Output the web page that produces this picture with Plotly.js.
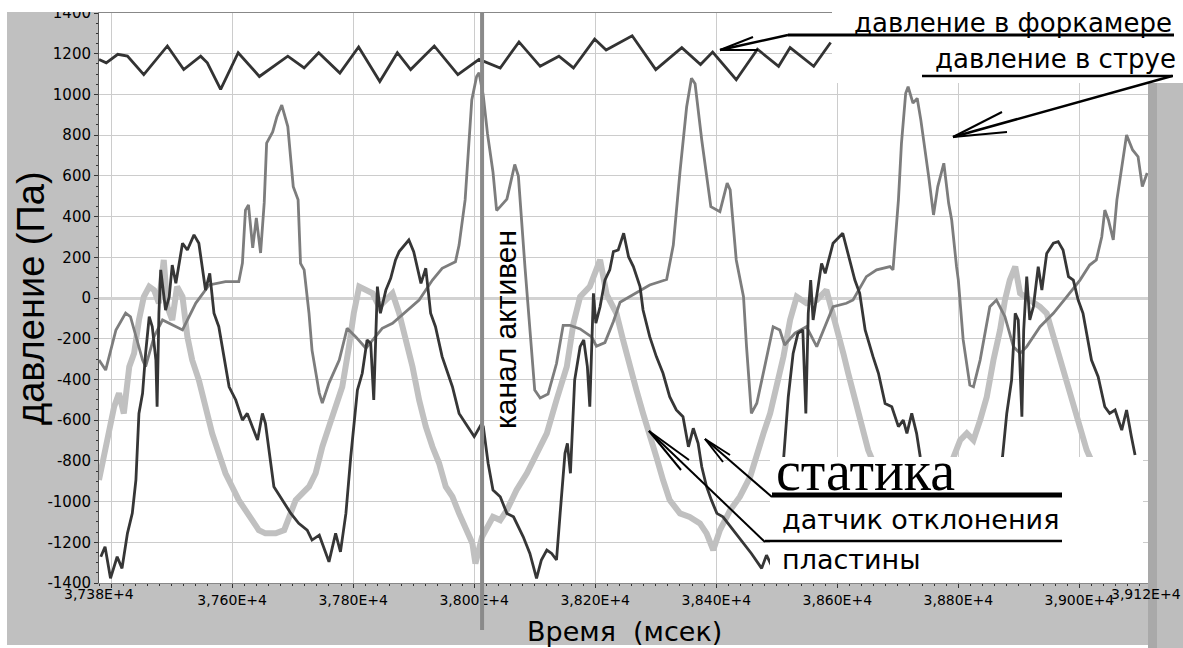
<!DOCTYPE html>
<html>
<head>
<meta charset="utf-8">
<script src="https://cdn.plot.ly/plotly-3.0.1.min.js"></script>
<style>
  html, body { margin: 0; padding: 0; background: #ffffff; }
  #chart { width: 1183px; height: 648px; }
</style>
</head>
<body>
<div id="chart"></div>
<script>
// ---------------- DATA ----------------
// давление в форкамере
const tPrechamber = [37380,37392,37411,37427,37454,37493,37520,37548,37559,37581,37610,37645,37692,37719,37743,37778,37809,37844,37873,37895,37934,37973,38008,38043,38074,38109,38140,38164,38199,38218,38261,38300,38343,38374,38394,38433,38468,38503,38522,38561,38589];
const pPrechamber = [1172,1155,1197,1188,1097,1238,1122,1188,1155,1025,1205,1088,1188,1130,1205,1105,1233,1063,1205,1122,1238,1097,1172,1130,1258,1138,1188,1130,1272,1218,1288,1122,1230,1147,1208,1072,1222,1138,1230,1138,1255];

// давление в струе
const tJet = [37380,37391,37408,37424,37432,37452,37457,37471,37485,37496,37518,37540,37562,37589,37611,37617,37622,37627,37634,37640,37647,37653,37657,37667,37674,37682,37692,37701,37709,37713,37719,37727,37732,37744,37749,37760,37777,37790,37804,37821,37837,37848,37865,37887,37909,37931,37947,37969,37975,37985,37996,38004,38008,38015,38022,38031,38037,38043,38054,38067,38073,38084,38092,38100,38109,38122,38136,38147,38158,38175,38194,38202,38216,38230,38241,38263,38290,38318,38329,38340,38351,38359,38365,38376,38391,38406,38418,38423,38433,38445,38450,38458,38467,38480,38494,38505,38513,38530,38549,38566,38582,38593,38615,38626,38648,38665,38687,38692,38695,38698,38701,38706,38713,38717,38725,38732,38738,38751,38759,38766,38776,38784,38789,38797,38800,38808,38819,38825,38836,38852,38863,38877,38891,38902,38913,38935,38957,38979,39001,39017,39028,39037,39042,39048,39056,39062,39067,39078,39088,39097,39104,39112];
const pJet = [-305,-354,-157,-74,-92,-305,-337,-190,-108,-124,-157,-25,64,80,80,172,432,457,246,393,221,467,761,816,891,948,842,547,482,170,138,-74,-256,-467,-516,-418,-305,-149,-190,-247,-190,-149,-124,-67,-10,88,146,178,260,482,973,1088,1107,994,806,619,430,449,486,656,599,148,-134,-452,-491,-472,-322,-134,-134,-152,-191,-237,-219,-115,-21,16,64,91,260,619,938,1080,1052,776,449,424,564,531,187,6,-239,-567,-517,-337,-141,-157,-231,-173,-141,-239,-124,-43,-26,-10,105,138,154,138,252,383,482,760,1006,1038,957,981,875,596,408,547,662,465,383,154,88,-206,-428,-436,-305,-43,-10,-92,-239,-272,-239,-141,-75,6,88,162,187,301,432,383,285,482,580,801,727,694,547,614];

// датчик отклонения пластины
const tPlate = [37383,37390,37399,37410,37418,37427,37435,37441,37446,37452,37457,37463,37468,37474,37476,37479,37482,37486,37490,37496,37501,37507,37518,37526,37537,37545,37556,37563,37570,37578,37595,37606,37617,37625,37642,37650,37655,37669,37680,37697,37710,37724,37732,37744,37760,37771,37779,37788,37796,37807,37815,37823,37829,37834,37840,37845,37854,37862,37870,37876,37892,37900,37912,37920,37928,37936,37947,37964,37975,37989,38000,38011,38015,38023,38031,38043,38054,38065,38081,38092,38103,38111,38120,38128,38136,38142,38150,38154,38159,38166,38175,38181,38187,38191,38197,38201,38208,38216,38224,38230,38238,38247,38255,38263,38274,38279,38290,38301,38312,38323,38334,38345,38354,38362,38370,38376,38384,38392,38401,38411,38428,38445,38458,38475,38483,38497,38511,38519,38527,38535,38543,38548,38552,38556,38560,38566,38574,38580,38588,38593,38609,38618,38629,38637,38646,38659,38668,38679,38690,38701,38709,38715,38723,38731,38737,38770,38811,38852,38873,38880,38888,38894,38899,38905,38908,38913,38918,38924,38932,38938,38946,38957,38965,38973,38982,38990,38998,39006,39012,39020,39031,39042,39050,39059,39070,39078,39086,39092];
const pPlate = [-1271,-1222,-1377,-1271,-1328,-1156,-1058,-894,-567,-468,-272,-92,-141,-305,-534,-75,138,39,-59,6,162,72,269,236,310,269,39,121,-75,-141,-436,-501,-600,-567,-698,-567,-616,-927,-976,-1058,-1107,-1140,-1189,-1165,-1296,-1156,-1247,-1058,-780,-452,-370,-206,-223,-501,56,-75,39,97,187,228,285,228,72,146,-75,-141,-288,-436,-567,-632,-681,-624,-632,-812,-943,-976,-1058,-1075,-1173,-1255,-1377,-1287,-1238,-1255,-1287,-1058,-763,-714,-861,-403,-239,-206,-337,-534,23,-124,-43,88,138,228,236,318,203,154,56,-59,-190,-288,-370,-485,-550,-583,-731,-640,-714,-829,-927,-993,-1058,-1075,-1140,-1205,-1255,-1328,-1263,-1350,-780,-485,-272,-173,-157,-567,-75,88,-108,6,170,121,219,269,318,219,88,23,-157,-288,-370,-518,-534,-632,-600,-665,-567,-665,-780,-1250,-1350,-1200,-780,-567,-403,-75,-108,-583,-157,105,-108,-43,154,39,219,269,277,236,105,88,-10,-75,-173,-305,-387,-534,-567,-550,-649,-550,-681,-771];

// статика
const tStatic = [37380,37388,37397,37405,37413,37421,37430,37438,37446,37454,37463,37471,37479,37487,37493,37501,37509,37518,37526,37534,37545,37556,37567,37578,37589,37600,37611,37622,37633,37644,37655,37672,37686,37697,37705,37716,37727,37738,37749,37760,37771,37782,37793,37801,37810,37821,37832,37843,37854,37865,37876,37887,37898,37909,37920,37931,37942,37953,37964,37975,37986,37997,38002,38013,38031,38043,38054,38070,38087,38103,38120,38136,38153,38164,38175,38191,38208,38219,38235,38246,38257,38268,38279,38290,38301,38312,38323,38340,38356,38373,38384,38395,38406,38423,38439,38456,38467,38478,38489,38500,38511,38522,38533,38549,38566,38582,38593,38602,38610,38618,38626,38635,38643,38651,38687,38728,38770,38792,38803,38814,38825,38836,38847,38858,38869,38877,38885,38894,38902,38918,38935,38946,38957,38968,38979,38990,39001,39012,39017,39050,39100];
const pStatic = [-894,-780,-665,-534,-468,-567,-337,-272,-108,6,56,39,-26,187,-43,-108,56,6,-190,-305,-403,-534,-665,-763,-861,-927,-993,-1042,-1091,-1140,-1156,-1156,-1140,-1058,-993,-960,-927,-861,-731,-632,-534,-436,-239,-75,56,39,23,-43,-10,23,-75,-206,-337,-501,-632,-731,-812,-927,-976,-1058,-1124,-1205,-1304,-1173,-1075,-1091,-1042,-943,-861,-763,-665,-501,-337,-124,6,56,187,16,-75,-206,-337,-452,-567,-665,-780,-894,-993,-1058,-1075,-1107,-1156,-1238,-1140,-1042,-976,-878,-763,-665,-567,-436,-288,-108,6,-26,-10,39,-75,-173,-272,-370,-468,-567,-665,-747,-1000,-1150,-950,-780,-698,-665,-698,-600,-485,-305,-157,-10,88,154,23,-10,-43,-75,-190,-305,-403,-534,-649,-747,-780,-1000,-1150];

// axes
const xRange = [37380, 39120];
const yRange = [-1400, 1400];
const xTickVals = [37400,37600,37800,38000,38200,38400,38600,38800,39000];
const xTickText = ['','3,760E+4','3,780E+4','3,800E+4','3,820E+4','3,840E+4','3,860E+4','3,880E+4','3,900E+4'];
const xEdgeVals = [37380, 39120];
const xEdgeText = ['3,738E+4','3,912E+4'];
const yTickVals = [-1400,-1200,-1000,-800,-600,-400,-200,0,200,400,600,800,1000,1200,1400];
const yTickText = ['-1400','-1200','-1000','-800','-600','-400','-200','0','200','400','600','800','1000','1200','1400'];
const activeChannelTime = 38013;

// texts
const labelPrechamber = 'давление в форкамере';
const labelJet = 'давление в струе';
const labelStatic = 'статика';
const labelPlate1 = 'датчик отклонения';
const labelPlate2 = 'пластины';
const labelActive = 'канал активен';
const xTitle = 'Время\u00A0\u00A0(мсек)';
const yTitle = 'давление (Па)';

// ---------------- LAYOUT HELPERS ----------------
const W = 1183, H = 648;
const L = 99, R = 1152, T = 13, B = 583;
const px = v => (v - L) / (R - L);
const py = v => (B - v) / (B - T);
const tx = t => (t - xRange[0]) / (xRange[1] - xRange[0]);

function rect(x0, y0, x1, y1, color, layer) {
  return { type: 'rect', xref: 'paper', yref: 'paper', x0: px(x0), x1: px(x1), y0: py(y1), y1: py(y0),
           fillcolor: color, line: { width: 0 }, layer: layer };
}
function seg(x0, y0, x1, y1, w, color) {
  return { type: 'line', xref: 'paper', yref: 'paper', x0: px(x0), y0: py(y0), x1: px(x1), y1: py(y1),
           line: { color: color || '#000', width: w }, layer: 'above' };
}

const GRAY = '#c0c0c0';
const shapes = [
  rect(7, 11, 99, 645, GRAY, 'below'),
  rect(7, 583, 1183, 645, GRAY, 'below'),
  rect(0, -2, 832, 11, '#ffffff', 'above'),
  rect(832, -2, 1183, 83, '#ffffff', 'above'),
  rect(770, 457, 1143, 582.5, '#ffffff', 'above'),
  rect(1148, 83, 1183, 648, '#bdbdbd', 'above'),
  rect(1148, 83, 1157, 648, '#a9a9a9', 'above'),
  { type: 'line', xref: 'paper', yref: 'paper', x0: tx(activeChannelTime), x1: tx(activeChannelTime),
    y0: py(630), y1: py(12), line: { color: '#8a8a8a', width: 4 }, layer: 'above' },
  // underline + arrow: форкамера
  seg(788, 35, 1174, 35, 3),
  seg(788, 35, 720, 50, 2.5),
  seg(720, 50, 753, 37, 2),
  seg(720, 50, 758, 50, 2),
  // underline + arrow: струя
  seg(922, 76, 1173, 76, 2.5),
  seg(1172, 76, 953, 137, 2.5),
  seg(953, 137, 1002, 112, 2),
  seg(953, 137, 1007, 132, 2),
  // статика underline + arrow
  seg(772, 495, 1062, 495, 5),
  seg(772, 497, 705, 439, 2),
  seg(705, 439, 730, 455, 2),
  seg(705, 439, 723, 462, 2),
  // датчик underline + arrow
  seg(765, 541, 1062, 541, 2.5),
  seg(765, 542, 649, 431, 2),
  seg(649, 431, 689, 460, 2),
  seg(649, 431, 681, 470, 2)
];

const SANS = 'DejaVu Sans, sans-serif';
const ARIAL = 'Liberation Sans, Arial, sans-serif';
const annotations = [
  // white strip that crops the top of the picture (over the "1400" label)
  { text: '.', xref: 'paper', yref: 'paper', x: px(0), y: py(0), xanchor: 'left', yanchor: 'top',
    width: 99, height: 12, bgcolor: '#ffffff', borderpad: 0, borderwidth: 0, showarrow: false,
    font: { size: 6, color: '#ffffff' } },
  { text: yTitle, xref: 'paper', yref: 'paper', x: px(31), y: py(298), textangle: -90, showarrow: false,
    font: { family: ARIAL, size: 38, color: '#000' }, xanchor: 'center', yanchor: 'middle' },
  { text: xTitle, xref: 'paper', yref: 'paper', x: px(624), y: py(631), showarrow: false,
    font: { family: SANS, size: 27, color: '#000' }, xanchor: 'center', yanchor: 'middle' },
  { text: labelActive, xref: 'paper', yref: 'paper', x: px(505), y: py(330), textangle: -90, showarrow: false,
    font: { family: ARIAL, size: 30, color: '#000' }, xanchor: 'center', yanchor: 'middle' },
  { text: labelPrechamber, xref: 'paper', yref: 'paper', x: px(1174), y: py(23), showarrow: false,
    font: { family: SANS, size: 26, color: '#000' }, xanchor: 'right', yanchor: 'middle' },
  { text: labelJet, xref: 'paper', yref: 'paper', x: px(1178), y: py(59), showarrow: false,
    font: { family: SANS, size: 26, color: '#000' }, xanchor: 'right', yanchor: 'middle' },
  { text: labelStatic, xref: 'paper', yref: 'paper', x: px(774), y: py(471), showarrow: false,
    font: { family: 'Liberation Serif, Times New Roman, serif', size: 56, color: '#000' }, xanchor: 'left', yanchor: 'middle' },
  { text: labelPlate1, xref: 'paper', yref: 'paper', x: px(780), y: py(519), showarrow: false,
    font: { family: SANS, size: 27, color: '#000' }, xanchor: 'left', yanchor: 'middle' },
  { text: labelPlate2, xref: 'paper', yref: 'paper', x: px(780), y: py(559), showarrow: false,
    font: { family: SANS, size: 27, color: '#000' }, xanchor: 'left', yanchor: 'middle' },
  { text: xEdgeText[0], xref: 'x', yref: 'paper', x: xEdgeVals[0], y: 0, yshift: -1, showarrow: false,
    font: { family: SANS, size: 14, color: '#000' }, xanchor: 'center', yanchor: 'top' },
  { text: xEdgeText[1], xref: 'paper', yref: 'paper', x: px(1183), y: 0, yshift: -1, showarrow: false,
    font: { family: SANS, size: 14, color: '#000' }, xanchor: 'right', yanchor: 'top' }
];

const traces = [
  { x: tStatic, y: pStatic, type: 'scatter', mode: 'lines', name: labelStatic,
    line: { color: '#c0c0c0', width: 6 } },
  { x: tJet, y: pJet, type: 'scatter', mode: 'lines', name: labelJet,
    line: { color: '#7d7d7d', width: 2.8 } },
  { x: tPlate, y: pPlate, type: 'scatter', mode: 'lines', name: labelPlate1 + ' ' + labelPlate2,
    line: { color: '#363636', width: 2.8 } },
  { x: tPrechamber, y: pPrechamber, type: 'scatter', mode: 'lines', name: labelPrechamber,
    line: { color: '#333333', width: 2.8 } }
];

const layout = {
  width: W, height: H,
  margin: { l: L, r: W - R, t: T, b: H - B, pad: 0 },
  paper_bgcolor: '#ffffff',
  plot_bgcolor: '#ffffff',
  showlegend: false,
  xaxis: {
    range: xRange, tickmode: 'array', tickvals: xTickVals, ticktext: xTickText,
    showgrid: true, gridcolor: '#cccccc', gridwidth: 1, zeroline: false,
    ticks: 'outside', ticklen: 4, tickcolor: '#333', tickwidth: 1,
    minor: { tick0: xRange[0], dtick: 20, ticks: 'outside', ticklen: 2, tickcolor: '#333', showgrid: false },
    showline: true, linecolor: '#888', linewidth: 1, mirror: true,
    tickfont: { family: SANS, size: 14, color: '#000' }
  },
  yaxis: {
    range: yRange, tickmode: 'array', tickvals: yTickVals, ticktext: yTickText,
    showgrid: true, gridcolor: '#cccccc', gridwidth: 1,
    zeroline: true, zerolinecolor: '#d2d2d2', zerolinewidth: 3,
    ticks: 'outside', ticklen: 4, tickcolor: '#333', tickwidth: 1,
    minor: { tick0: 0, dtick: 50, ticks: 'outside', ticklen: 2, tickcolor: '#333', showgrid: false },
    showline: true, linecolor: '#555', linewidth: 1, mirror: true,
    tickfont: { family: SANS, size: 15, color: '#000' }
  },
  shapes: shapes,
  annotations: annotations
};

Plotly.newPlot('chart', traces, layout, { displayModeBar: false, staticPlot: true });
</script>
</body>
</html>
